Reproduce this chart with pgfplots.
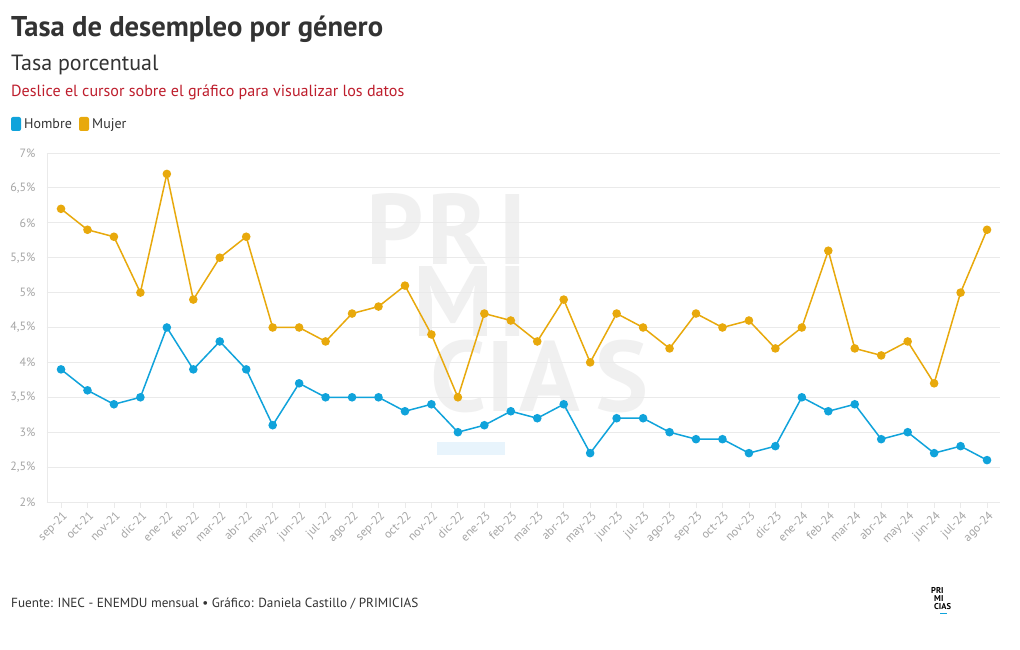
\documentclass[border=0pt]{standalone}
\usepackage{pgfplots}
\pgfplotsset{compat=1.18}
\usepackage{pgfplotstable}
\usepackage{fontspec}
\setmainfont{PT Sans}
\definecolor{hombre}{RGB}{16,163,219}
\definecolor{mujer}{RGB}{232,169,12}
\definecolor{titlec}{RGB}{51,51,51}
\definecolor{redc}{RGB}{190,30,45}
\definecolor{tickc}{RGB}{165,165,165}
\definecolor{gridc}{RGB}{234,234,234}
\definecolor{wm}{RGB}{240,240,240}
\definecolor{wmblue}{RGB}{232,244,252}

\pgfplotstableread{
x h m
0 3.9 6.2
1 3.6 5.9
2 3.4 5.8
3 3.5 5.0
4 4.5 6.7
5 3.9 4.9
6 4.3 5.5
7 3.9 5.8
8 3.1 4.5
9 3.7 4.5
10 3.5 4.3
11 3.5 4.7
12 3.5 4.8
13 3.3 5.1
14 3.4 4.4
15 3.0 3.5
16 3.1 4.7
17 3.3 4.6
18 3.2 4.3
19 3.4 4.9
20 2.7 4.0
21 3.2 4.7
22 3.2 4.5
23 3.0 4.2
24 2.9 4.7
25 2.9 4.5
26 2.7 4.6
27 2.8 4.2
28 3.5 4.5
29 3.3 5.6
30 3.4 4.2
31 2.9 4.1
32 3.0 4.3
33 2.7 3.7
34 2.8 5.0
35 2.6 5.9
}\data

\newcommand{\wml}[3]{\node[anchor=base west, inner sep=0, text=wm, font=\fontsize{100}{100}\selectfont\bfseries] at (#1,#2) {#3};}

\begin{document}
\begin{tikzpicture}[x=1pt,y=1pt]
\fill[white] (0,0) rectangle (1020,650);
% titles
\node[anchor=base west, inner sep=0, text=titlec, font=\fontsize{28.6}{30}\selectfont\bfseries] at (11,613) {Tasa de desempleo por género};
\node[anchor=base west, inner sep=0, text=titlec, font=\fontsize{22}{24}\selectfont] at (11,579) {Tasa porcentual};
\node[anchor=base west, inner sep=0, text=redc, font=\fontsize{16.1}{18}\selectfont] at (11,553) {Deslice el cursor sobre el gráfico para visualizar los datos};
% legend
\fill[hombre, rounded corners=2pt] (11,519) rectangle (21,533);
\node[anchor=base west, inner sep=0, text=titlec, font=\fontsize{14}{16}\selectfont] at (24,521) {Hombre};
\fill[mujer, rounded corners=2pt] (79,519) rectangle (89,533);
\node[anchor=base west, inner sep=0, text=titlec, font=\fontsize{14}{16}\selectfont] at (92,521) {Mujer};
% watermark
\wml{366}{385}{P}
\wml{427}{385}{R}
\wml{498}{385}{I}
\wml{413}{313}{M}
\wml{498}{313}{I}
\wml{430}{238}{C}
\wml{486}{238}{I}
\wml{519}{238}{A}
\wml{595}{238}{S}
\fill[wmblue] (437,195) rectangle (505,208);
% footer
\node[anchor=base west, inner sep=0, text=titlec, font=\fontsize{13.2}{15}\selectfont] at (11,42) {Fuente: INEC - ENEMDU mensual • Gráfico: Daniela Castillo / PRIMICIAS};
\node[anchor=north west, inner sep=0, align=left, text=black, font=\fontsize{8.5}{8}\selectfont\bfseries] at (931,63) {PRI\\\hspace*{3pt}MI\\\hspace*{3pt}CIAS};
\fill[hombre] (940,36) rectangle (947,37.2);
\begin{axis}[
  at={(47pt,148pt)}, anchor=south west,
  width=953pt, height=349pt, scale only axis,
  xmin=-0.53, xmax=35.49, ymin=2, ymax=7,
  axis x line*=bottom, axis y line*=left,
  axis line style={draw=gridc, line width=0.8pt},
  ytick={2,2.5,...,7},
  yticklabels={2\%,{2,5\%},3\%,{3,5\%},4\%,{4,5\%},5\%,{5,5\%},6\%,{6,5\%},7\%},
  ymajorgrids, grid style={draw=gridc, line width=0.8pt},
  ytick style={draw=none},
  yticklabel style={font=\fontsize{12}{12}\selectfont, text=tickc, xshift=-2pt},
  xtick={0,...,35},
  xticklabels={sep-21,oct-21,nov-21,dic-21,ene-22,feb-22,mar-22,abr-22,may-22,jun-22,jul-22,ago-22,sep-22,oct-22,nov-22,dic-22,ene-23,feb-23,mar-23,abr-23,may-23,jun-23,jul-23,ago-23,sep-23,oct-23,nov-23,dic-23,ene-24,feb-24,mar-24,abr-24,may-24,jun-24,jul-24,ago-24},
  xtick style={draw=gridc, line width=0.8pt},
  tick align=outside, major tick length=6pt,
  xticklabel style={font=\fontsize{12}{12}\selectfont, text=tickc, rotate=45, anchor=north east, inner sep=1pt, yshift=-1pt},
  clip=false,
]
\addplot[mujer, line width=1.5pt, mark=*, mark size=3.5pt, mark options={fill=mujer, draw=mujer}] table[x=x,y=m] {\data};
\addplot[hombre, line width=1.5pt, mark=*, mark size=3.5pt, mark options={fill=hombre, draw=hombre}] table[x=x,y=h] {\data};
\end{axis}
\end{tikzpicture}
\end{document}
